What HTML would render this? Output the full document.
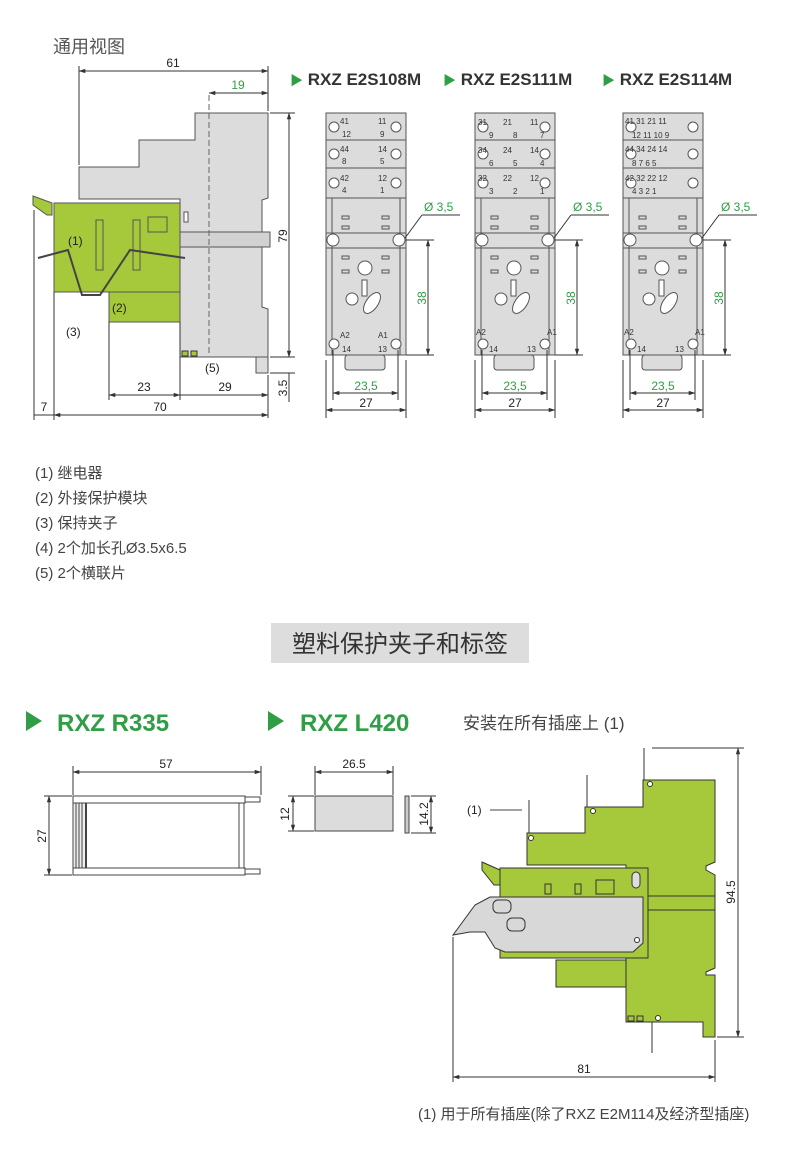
<!DOCTYPE html>
<html><head><meta charset="utf-8"><style>
html,body{margin:0;padding:0;background:#fff;}
svg{display:block;font-family:"Liberation Sans","Noto Sans CJK SC",sans-serif;}
.d{stroke:#333;stroke-width:1;fill:none}
.t{font-size:12px;fill:#222}
.g{fill:#2f9e44}
.cj{font-family:"Liberation Sans","Noto Sans CJK SC",sans-serif}
</style></head><body>
<svg width="800" height="1167" viewBox="0 0 800 1167" xmlns="http://www.w3.org/2000/svg">
<defs>
<marker id="a" viewBox="0 0 10 10" refX="9" refY="5" markerWidth="7" markerHeight="7" orient="auto-start-reverse"><path d="M0,2 L10,5 L0,8 z" fill="#333"/></marker>
</defs>
<text x="53" y="53" class="cj" font-size="18" fill="#555">通用视图</text>

<!-- left main drawing -->
<g stroke="#555" stroke-width="1">
<polygon points="79,199 79,167 139,167 139,140 195,140 195,113 268,113 268,198 262,200 262,307 268,309 268,357 180,357 180,199" fill="#dcdcdc"/>
<rect x="256" y="357" width="12" height="16" fill="#dcdcdc"/>
<rect x="54" y="203" width="126" height="89" fill="#a6c93b"/>
<rect x="109" y="292" width="71" height="30" fill="#a6c93b"/>
<polygon points="33,196 52,203 52,215 47,215 33,205" fill="#a6c93b"/>
<rect x="180" y="232" width="90" height="15" fill="#d2d2d2"/>
<rect x="96" y="220" width="7" height="50" fill="#a6c93b"/>
<rect x="133" y="220" width="7" height="50" fill="#a6c93b"/>
<rect x="148" y="217" width="19" height="15" fill="#a6c93b"/>
<rect x="184" y="212" width="4" height="10" fill="#fff"/>
</g>
<polyline points="38,258 68,250 82,295 100,295 130,250 185,258" fill="none" stroke="#444" stroke-width="2"/>
<line x1="209" y1="95" x2="209" y2="355" stroke="#666" stroke-dasharray="6,3"/>
<text x="68" y="245" font-size="12" fill="#222">(1)</text>
<text x="112" y="312" font-size="12" fill="#222">(2)</text>
<text x="66" y="336" font-size="12" fill="#222">(3)</text>
<text x="205" y="372" font-size="12" fill="#222">(5)</text>
<rect x="182" y="351" width="6" height="5" fill="#a6c93b" stroke="#333"/><rect x="191" y="351" width="6" height="5" fill="#a6c93b" stroke="#333"/>
<!-- dims -->
<g class="d">
<line x1="79" y1="71" x2="268" y2="71" marker-start="url(#a)" marker-end="url(#a)"/>
<line x1="79" y1="66" x2="79" y2="165"/><line x1="268" y1="66" x2="268" y2="111"/>
<line x1="209" y1="93" x2="268" y2="93" marker-start="url(#a)" marker-end="url(#a)"/>
<line x1="289" y1="113" x2="289" y2="357" marker-start="url(#a)" marker-end="url(#a)"/>
<line x1="270" y1="113" x2="295" y2="113"/><line x1="270" y1="357" x2="295" y2="357"/><line x1="270" y1="373" x2="295" y2="373"/>
<line x1="289" y1="373" x2="289" y2="402"/>
<line x1="109" y1="395" x2="180" y2="395" marker-start="url(#a)" marker-end="url(#a)"/>
<line x1="180" y1="395" x2="268" y2="395" marker-end="url(#a)"/>
<line x1="109" y1="322" x2="109" y2="400"/><line x1="180" y1="322" x2="180" y2="400"/><line x1="268" y1="375" x2="268" y2="418"/>
<line x1="54" y1="415" x2="268" y2="415" marker-start="url(#a)" marker-end="url(#a)"/>
<line x1="34" y1="415" x2="54" y2="415"/>
<line x1="34" y1="210" x2="34" y2="420"/><line x1="54" y1="292" x2="54" y2="420"/>
</g>
<text x="173" y="67" class="t" text-anchor="middle">61</text>
<text x="238" y="89" font-size="12" class="g" text-anchor="middle">19</text>
<text x="287" y="236" class="t" transform="rotate(-90 287 236)" text-anchor="middle">79</text>
<text x="287" y="388" class="t" transform="rotate(-90 287 388)" text-anchor="middle">3.5</text>
<text x="144" y="391" class="t" text-anchor="middle">23</text>
<text x="225" y="391" class="t" text-anchor="middle">29</text>
<text x="44" y="411" class="t" text-anchor="middle">7</text>
<text x="160" y="411" class="t" text-anchor="middle">70</text>

<!-- headings -->
<g font-size="17" font-weight="bold" fill="#333">
<text x="290" y="85"><tspan fill="#2f9e44" font-size="13">▶</tspan> RXZ E2S108M</text>
<text x="443" y="85"><tspan fill="#2f9e44" font-size="13">▶</tspan> RXZ E2S111M</text>
<text x="602" y="85"><tspan fill="#2f9e44" font-size="13">▶</tspan> RXZ E2S114M</text>
</g>

<!-- sockets -->
<g id="s1">
<g stroke="#555" stroke-width="1" fill="#dcdcdc">
<rect x="326" y="113" width="80" height="242"/>
<rect x="345" y="355" width="40" height="15" rx="3"/>
</g>
<g stroke="#555" fill="none">
<line x1="326" y1="140" x2="406" y2="140"/><line x1="326" y1="168" x2="406" y2="168"/><line x1="326" y1="198" x2="406" y2="198"/>
<line x1="326" y1="233" x2="406" y2="233"/><line x1="326" y1="248" x2="406" y2="248"/>
<line x1="332" y1="198" x2="332" y2="355"/><line x1="400" y1="198" x2="400" y2="355"/>
<circle cx="333" cy="240" r="6" fill="#fff"/><circle cx="399" cy="240" r="6" fill="#fff"/>
<circle cx="365" cy="268" r="7" fill="#fff"/><circle cx="352" cy="299" r="6" fill="#fff"/>
<rect x="362" y="280" width="5" height="16" fill="#fff"/>
<ellipse cx="372" cy="303" rx="6" ry="12" transform="rotate(35 372 303)" fill="#fff"/>
<circle cx="334" cy="127" r="5" fill="#fff"/><circle cx="396" cy="127" r="5" fill="#fff"/>
<circle cx="334" cy="154" r="5" fill="#fff"/><circle cx="396" cy="154" r="5" fill="#fff"/>
<circle cx="334" cy="183" r="5" fill="#fff"/><circle cx="396" cy="183" r="5" fill="#fff"/>
<circle cx="334" cy="344" r="5" fill="#fff"/><circle cx="396" cy="344" r="5" fill="#fff"/>
<rect x="342" y="216" width="7" height="3"/><rect x="382" y="216" width="7" height="3"/>
<rect x="342" y="226" width="7" height="3"/><rect x="382" y="226" width="7" height="3"/>
<rect x="342" y="256" width="7" height="3"/><rect x="382" y="256" width="7" height="3"/>
<rect x="342" y="270" width="7" height="3"/><rect x="382" y="270" width="7" height="3"/>
</g>
</g>
<use href="#s1" x="149"/>
<use href="#s1" x="297"/>
<g font-size="8" fill="#333">
<text x="340" y="124">41</text><text x="378" y="124">11</text><text x="342" y="137">12</text><text x="380" y="137">9</text>
<text x="340" y="152">44</text><text x="378" y="152">14</text><text x="342" y="164">8</text><text x="380" y="164">5</text>
<text x="340" y="181">42</text><text x="378" y="181">12</text><text x="342" y="193">4</text><text x="380" y="193">1</text>
<text x="340" y="338">A2</text><text x="378" y="338">A1</text><text x="342" y="352">14</text><text x="378" y="352">13</text>
<text x="478" y="125">31</text><text x="503" y="125">21</text><text x="530" y="125">11</text>
<text x="489" y="138">9</text><text x="513" y="138">8</text><text x="540" y="138">7</text>
<text x="478" y="153">34</text><text x="503" y="153">24</text><text x="530" y="153">14</text>
<text x="489" y="166">6</text><text x="513" y="166">5</text><text x="540" y="166">4</text>
<text x="478" y="181">32</text><text x="503" y="181">22</text><text x="530" y="181">12</text>
<text x="489" y="194">3</text><text x="513" y="194">2</text><text x="540" y="194">1</text>
<text x="476" y="335">A2</text><text x="547" y="335">A1</text><text x="489" y="352">14</text><text x="527" y="352">13</text>
<text x="625" y="124">41 31 21 11</text><text x="632" y="138">12 11 10 9</text>
<text x="625" y="152">44 34 24 14</text><text x="632" y="166">8  7  6  5</text>
<text x="625" y="181">42 32 22 12</text><text x="632" y="194">4  3  2  1</text>
<text x="624" y="335">A2</text><text x="695" y="335">A1</text><text x="637" y="352">14</text><text x="675" y="352">13</text>
</g>
<g id="dm">
<g class="d">
<line x1="428" y1="240" x2="428" y2="355" marker-start="url(#a)" marker-end="url(#a)"/>
<line x1="406" y1="240" x2="434" y2="240"/><line x1="406" y1="355" x2="434" y2="355"/>
<line x1="333" y1="393" x2="398" y2="393" marker-start="url(#a)" marker-end="url(#a)"/>
<line x1="326" y1="410" x2="406" y2="410" marker-start="url(#a)" marker-end="url(#a)"/>
<line x1="326" y1="360" x2="326" y2="418"/><line x1="406" y1="360" x2="406" y2="418"/>
<line x1="333" y1="350" x2="333" y2="400"/><line x1="398" y1="350" x2="398" y2="400"/>
<line x1="405" y1="238" x2="422" y2="215"/><line x1="422" y1="215" x2="460" y2="215"/>
</g>
</g>
<use href="#dm" x="149"/><use href="#dm" x="297"/>
<g font-size="12" fill="#2f9e44">
<text x="424" y="211">Ø 3,5</text><text x="573" y="211">Ø 3,5</text><text x="721" y="211">Ø 3,5</text>
<text x="426" y="298" transform="rotate(-90 426 298)" text-anchor="middle">38</text>
<text x="575" y="298" transform="rotate(-90 575 298)" text-anchor="middle">38</text>
<text x="723" y="298" transform="rotate(-90 723 298)" text-anchor="middle">38</text>
<text x="366" y="390" text-anchor="middle">23,5</text><text x="515" y="390" text-anchor="middle">23,5</text><text x="663" y="390" text-anchor="middle">23,5</text>
</g>
<g class="t"><text x="366" y="407" text-anchor="middle">27</text><text x="515" y="407" text-anchor="middle">27</text><text x="663" y="407" text-anchor="middle">27</text></g>

<!-- legend -->
<g font-size="15" fill="#444" class="cj">
<text x="35" y="478">(1) 继电器</text>
<text x="35" y="503">(2) 外接保护模块</text>
<text x="35" y="528">(3) 保持夹子</text>
<text x="35" y="553">(4) 2个加长孔Ø3.5x6.5</text>
<text x="35" y="578">(5) 2个横联片</text>
</g>
<rect x="271" y="623" width="258" height="40" fill="#dddddd"/>
<text x="400" y="652" font-size="24" fill="#333" text-anchor="middle" class="cj">塑料保护夹子和标签</text>

<g fill="#2f9e44">
<polygon points="26,711 26,731 42,721"/>
<polygon points="268,711 268,731 284,721"/>
</g>
<g font-size="24" font-weight="bold" fill="#2f9e44">
<text x="57" y="731">RXZ R335</text>
<text x="300" y="731">RXZ L420</text>
</g>
<text x="463" y="729" font-size="17" fill="#444" class="cj">安装在所有插座上 (1)</text>

<!-- R335 -->
<g stroke="#444" fill="#fff">
<rect x="73" y="796" width="172" height="7"/><rect x="73" y="868" width="172" height="7"/>
<rect x="245" y="797" width="15" height="5"/><rect x="245" y="869" width="15" height="5"/>
<rect x="239" y="803" width="5" height="65"/>
<rect x="73" y="803" width="13" height="65" fill="#eee"/>
</g>
<g stroke="#444"><line x1="76" y1="803" x2="76" y2="868"/><line x1="79" y1="803" x2="79" y2="868"/><line x1="82" y1="803" x2="82" y2="868"/><line x1="86" y1="803" x2="86" y2="868" stroke-width="2"/></g>
<g class="d">
<line x1="73" y1="772" x2="261" y2="772" marker-start="url(#a)" marker-end="url(#a)"/>
<line x1="73" y1="766" x2="73" y2="795"/><line x1="261" y1="766" x2="261" y2="795"/>
<line x1="49" y1="796" x2="49" y2="875" marker-start="url(#a)" marker-end="url(#a)"/>
<line x1="44" y1="796" x2="72" y2="796"/><line x1="44" y1="875" x2="72" y2="875"/>
</g>
<text x="166" y="768" class="t" text-anchor="middle">57</text>
<text x="46" y="836" class="t" transform="rotate(-90 46 836)" text-anchor="middle">27</text>
<!-- L420 -->
<rect x="315" y="796" width="78" height="35" fill="#dcdcdc" stroke="#444"/>
<rect x="405" y="796" width="4" height="37" fill="#ccc" stroke="#444"/>
<g class="d">
<line x1="315" y1="772" x2="393" y2="772" marker-start="url(#a)" marker-end="url(#a)"/>
<line x1="315" y1="766" x2="315" y2="795"/><line x1="393" y1="766" x2="393" y2="795"/>
<line x1="293" y1="796" x2="293" y2="831" marker-start="url(#a)" marker-end="url(#a)"/>
<line x1="288" y1="796" x2="314" y2="796"/><line x1="288" y1="831" x2="314" y2="831"/>
<line x1="431" y1="796" x2="431" y2="833" marker-start="url(#a)" marker-end="url(#a)"/>
<line x1="411" y1="796" x2="436" y2="796"/><line x1="411" y1="833" x2="436" y2="833"/>
</g>
<text x="354" y="768" class="t" text-anchor="middle">26.5</text>
<text x="289" y="814" class="t" transform="rotate(-90 289 814)" text-anchor="middle">12</text>
<text x="428" y="814" class="t" transform="rotate(-90 428 814)" text-anchor="middle">14.2</text>

<!-- bottom right assembly -->
<g stroke="#333" stroke-width="1">
<line x1="529" y1="800" x2="529" y2="833"/><line x1="587" y1="775" x2="587" y2="807"/><line x1="644" y1="748" x2="644" y2="780"/>
<line x1="652" y1="1022" x2="652" y2="1053"/>
<polygon points="527,833 585,833 585,807 643,807 643,780 715,780 715,862 706,866 706,870 715,875 715,968 706,972 706,975 715,975 715,1037 703,1037 703,1022 626,1022 626,865 527,865" fill="#a6c93b"/>
<rect x="500" y="868" width="148" height="90" fill="#a6c93b"/>
<rect x="556" y="960" width="70" height="27" fill="#a6c93b"/>
<polygon points="482,862 500,870 500,885 494,885 482,870" fill="#a6c93b"/>
<rect x="648" y="896" width="67" height="14" fill="#a6c93b"/>
<polygon points="453,935 475,905 490,897 643,897 643,943 633,952 505,952 495,948 485,932 470,932" fill="#d8d8d8"/>
<rect x="493" y="900" width="18" height="13" rx="5" fill="#d8d8d8"/><rect x="507" y="918" width="18" height="13" rx="5" fill="#d8d8d8"/>
<rect x="545" y="884" width="6" height="10" fill="#a6c93b"/><rect x="575" y="884" width="6" height="10" fill="#a6c93b"/><rect x="596" y="880" width="18" height="14" fill="#a6c93b"/>
<rect x="632" y="872" width="8" height="16" rx="4" fill="#ddd"/>
<rect x="628" y="1016" width="6" height="5" fill="#a6c93b"/><rect x="637" y="1016" width="6" height="5" fill="#a6c93b"/>
</g>
<g fill="#fff" stroke="#333"><circle cx="531" cy="838" r="2.5"/><circle cx="593" cy="811" r="2.5"/><circle cx="650" cy="784" r="2.5"/><circle cx="658" cy="1018" r="2.5"/><circle cx="637" cy="940" r="2.5"/></g>
<line x1="490" y1="810" x2="522" y2="810" stroke="#444"/>
<text x="467" y="814" class="t">(1)</text>
<g class="d">
<line x1="738" y1="748" x2="738" y2="1037" marker-start="url(#a)" marker-end="url(#a)"/>
<line x1="652" y1="748" x2="744" y2="748"/><line x1="717" y1="1037" x2="744" y2="1037"/>
<line x1="453" y1="1077" x2="715" y2="1077" marker-start="url(#a)" marker-end="url(#a)"/>
<line x1="453" y1="937" x2="453" y2="1082"/><line x1="715" y1="1040" x2="715" y2="1082"/>
</g>
<text x="735" y="892" class="t" transform="rotate(-90 735 892)" text-anchor="middle">94.5</text>
<text x="584" y="1073" class="t" text-anchor="middle">81</text>
<text x="418" y="1119" font-size="15" fill="#444" class="cj">(1) 用于所有插座(除了RXZ E2M114及经济型插座)</text>
</svg>
</body></html>
